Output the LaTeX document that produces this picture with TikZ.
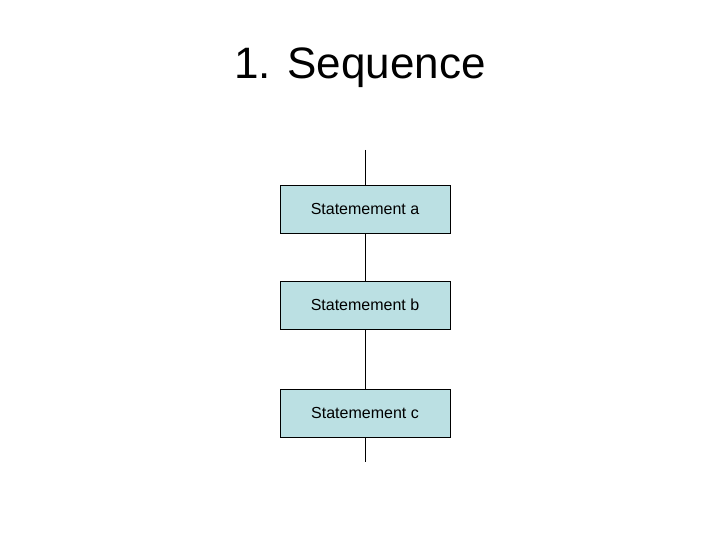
\documentclass[tikz,border=0pt]{standalone}
\usepackage{fontspec}
\setmainfont{Liberation Sans}
\definecolor{boxfill}{RGB}{187,224,227}
\begin{document}
\begin{tikzpicture}[x=1pt,y=-1pt,
  stbox/.style={draw=black,fill=boxfill,minimum width=170pt,minimum height=48pt,inner sep=0pt,font=\fontsize{16}{19}\selectfont},
  conn/.style={draw=black,line width=0.6pt}]
\useasboundingbox (0,0) rectangle (720,540);
\node (title) at (360,68) {\fontsize{44}{50}\selectfont 1. Sequence};
\coordinate (top) at (365,150);
\coordinate (bot) at (365,462);
\node[stbox] (a) at (365,209) {Statemement a};
\node[stbox] (b) at (365,305) {Statemement b};
\node[stbox] (c) at (365,413) {Statemement c};
\draw[conn] (top) -- (a.north);
\draw[conn] (a.south) -- (b.north);
\draw[conn] (b.south) -- (c.north);
\draw[conn] (c.south) -- (bot);
\end{tikzpicture}
\end{document}
